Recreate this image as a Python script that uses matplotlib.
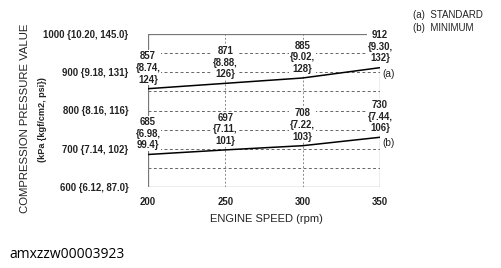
import matplotlib
matplotlib.use("Agg")
import matplotlib.pyplot as plt

speeds = [200, 250, 300, 350]
standard_kpa = [857, 871, 885, 912]
standard_kgf = ["8.74", "8.88", "9.02", "9.30"]
standard_psi = ["124", "126", "128", "132"]
minimum_kpa = [685, 697, 708, 730]
minimum_kgf = ["6.98", "7.11", "7.22", "7.44"]
minimum_psi = ["99.4", "101", "103", "106"]
y_ticks = [600, 700, 800, 900, 1000]
y_tick_labels = ["600 {6.12, 87.0}", "700 {7.14, 102}", "800 {8.16, 116}",
                 "900 {9.18, 131}", "1000 {10.20, 145.0}"]
x_ticks = [200, 250, 300, 350]

plt.rcParams['font.family'] = ['Liberation Sans', 'DejaVu Sans']
W, H = 502, 268
fig = plt.figure(figsize=(W/100, H/100), dpi=100)
L, R, T, B = 148, 380, 34, 187
ax = fig.add_axes([L/W, 1-B/H, (R-L)/W, (B-T)/H])
ax.set_xlim(200, 350)
ax.set_ylim(600, 1000)
for s in ax.spines.values():
    s.set_visible(False)

lc = '#777777'
tc = '#222222'
fs = 6.9
for yv in [650, 700, 750, 800, 850, 900, 950]:
    ax.plot([200, 350], [yv, yv], ls=(0, (3, 2.5)), color='#666666', lw=0.7, zorder=1)
for xv in [250, 300]:
    ax.plot([xv, xv], [600, 1000], ls=(0, (2, 2)), color='#888888', lw=0.7, zorder=1)
ax.plot([200, 200], [600, 1000], color=lc, lw=0.9, zorder=2)
ax.plot([200, 350], [600, 600], color=lc, lw=0.9, zorder=2)
ax.plot([200, 341.5], [1000, 1000], color=lc, lw=0.9, zorder=2)
ax.plot([350, 350], [600, standard_kpa[-1]], color=lc, lw=0.9, zorder=2)

ax.plot(speeds, standard_kpa, color='black', lw=1.1, zorder=3)
ax.plot(speeds, minimum_kpa, color='black', lw=1.1, zorder=3)

def lab(x, v, kg, psi):
    ax.annotate(f"{v}\n{{{kg},\n{psi}}}", (x, v), xytext=(0, 3), textcoords='offset points',
                ha='center', va='bottom', fontsize=fs, fontweight='bold', color=tc,
                linespacing=1.2, zorder=4,
                bbox=dict(facecolor='white', edgecolor='none', pad=0.6))

for x, v, kg, psi in zip(speeds, standard_kpa, standard_kgf, standard_psi):
    lab(x, v, kg, psi)
for x, v, kg, psi in zip(speeds, minimum_kpa, minimum_kgf, minimum_psi):
    lab(x, v, kg, psi)

ax.text(351.5, standard_kpa[-1] - 16, "(a)", fontsize=7.3, va='center', ha='left', color=tc)
ax.text(351.5, minimum_kpa[-1] - 16, "(b)", fontsize=7.3, va='center', ha='left', color=tc)

ax.set_yticks(y_ticks)
ax.set_yticklabels(y_tick_labels, fontsize=fs, fontweight='bold', color=tc)
ax.set_xticks(x_ticks)
ax.set_xticklabels([str(v) for v in x_ticks], fontsize=fs, fontweight='bold', color=tc)
ax.tick_params(axis='y', length=0, pad=14)
ax.tick_params(axis='x', length=0, pad=7)

fig.text(25/W, 1-118/H, "COMPRESSION PRESSURE VALUE", rotation=90, fontsize=8.2,
         ha='center', va='center', color=tc)
fig.text(43/W, 1-120/H, "(kPa {kgf/cm2, psi})", rotation=90, fontsize=6.6, fontweight='bold',
         ha='center', va='center', color=tc)
fig.text(266/W, 1-219/H, "ENGINE SPEED (rpm)", fontsize=8, ha='center', va='center', color=tc)
fig.text(413/W, 1-15/H, "(a)  STANDARD", fontsize=7, ha='left', va='center', color=tc)
fig.text(413/W, 1-28/H, "(b)  MINIMUM", fontsize=7, ha='left', va='center', color=tc)
fig.text(9/W, 1-255/H, "amxzzw00003923", fontsize=10, family='Open Sans', ha='left', va='center', color='black')

fig.savefig("out.png", dpi=100)
